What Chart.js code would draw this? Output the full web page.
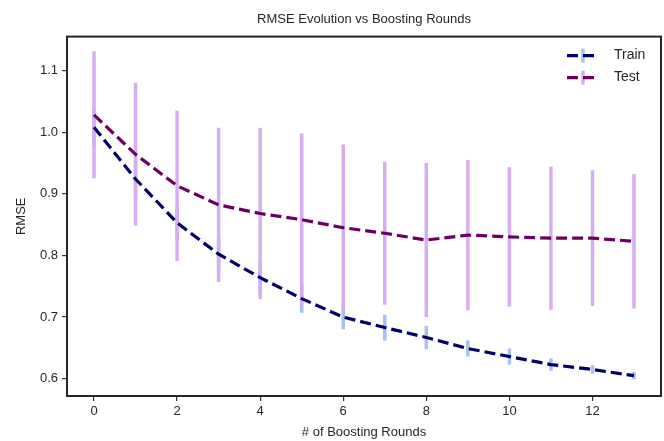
<!DOCTYPE html>
<html lang="en">
<head>
  <meta charset="UTF-8">
  <title>RMSE Evolution vs Boosting Rounds</title>
  <script src="https://cdn.jsdelivr.net/npm/chart.js"></script>
  <style>
    html, body { margin: 0; padding: 0; background: #fff; }
    #wrap { width: 664px; height: 441px; }
  </style>
</head>
<body>
  <div id="wrap"><canvas id="grafico" width="664" height="441"></canvas></div>

  <script>
    // dados
    const rounds = [0, 1, 2, 3, 4, 5, 6, 7, 8, 9, 10, 11, 12, 13];
    const trainMean = [1.008, 0.924, 0.853, 0.802, 0.764, 0.730, 0.700, 0.683, 0.667, 0.649, 0.636, 0.623, 0.615, 0.605];
    const trainStd  = [0.030, 0.030, 0.028, 0.027, 0.026, 0.023, 0.020, 0.021, 0.019, 0.013, 0.013, 0.010, 0.007, 0.006];
    const testMean  = [1.028, 0.964, 0.913, 0.882, 0.868, 0.858, 0.845, 0.836, 0.825, 0.833, 0.830, 0.828, 0.828, 0.823];
    const testStd   = [0.103, 0.116, 0.122, 0.125, 0.139, 0.140, 0.135, 0.116, 0.125, 0.122, 0.113, 0.116, 0.110, 0.109];
    const xTicks = [0, 2, 4, 6, 8, 10, 12];
    const yTicks = [0.6, 0.7, 0.8, 0.9, 1.0, 1.1];

    const font = 'Liberation Sans, Arial, sans-serif';
    const txtColor = '#262626';
    const series = [
      { label: 'Train', mean: trainMean, std: trainStd, line: '#000066', bar: '#a9c1f0' },
      { label: 'Test',  mean: testMean,  std: testStd,  line: '#6b005e', bar: '#d6aef0' }
    ];

    // barras de erro (train primeiro, test por cima)
    const errorBars = {
      id: 'errorBars',
      beforeDatasetsDraw(chart) {
        const { ctx, scales: { x, y } } = chart;
        ctx.save();
        ctx.lineWidth = 3.5;
        series.forEach(s => {
          ctx.strokeStyle = s.bar;
          rounds.forEach((r, i) => {
            const px = x.getPixelForValue(r);
            ctx.beginPath();
            ctx.moveTo(px, y.getPixelForValue(s.mean[i] + s.std[i]));
            ctx.lineTo(px, y.getPixelForValue(s.mean[i] - s.std[i]));
            ctx.stroke();
          });
        });
        ctx.restore();
      }
    };

    // moldura e legenda
    const frameLegend = {
      id: 'frameLegend',
      afterDraw(chart) {
        const { ctx, chartArea: a } = chart;
        ctx.save();
        ctx.strokeStyle = '#262626';
        ctx.lineWidth = 2;
        ctx.strokeRect(a.left, a.top, a.right - a.left, a.bottom - a.top);

        ctx.font = '14px ' + font;
        ctx.textBaseline = 'middle';
        series.forEach((s, i) => {
          const cy = a.top + 19 + i * 22;
          const x0 = a.right - 94;
          ctx.strokeStyle = s.bar;
          ctx.lineWidth = 3.5;
          ctx.beginPath();
          ctx.moveTo(x0 + 16, cy - 7);
          ctx.lineTo(x0 + 16, cy + 7);
          ctx.stroke();
          ctx.strokeStyle = s.line;
          ctx.lineWidth = 3.2;
          ctx.setLineDash([11, 5]);
          ctx.beginPath();
          ctx.moveTo(x0, cy);
          ctx.lineTo(x0 + 32, cy);
          ctx.stroke();
          ctx.setLineDash([]);
          ctx.fillStyle = txtColor;
          ctx.fillText(s.label, x0 + 47, cy);
        });
        ctx.restore();
      }
    };

    new Chart(document.getElementById('grafico'), {
      type: 'line',
      data: {
        datasets: series.map(s => ({
          label: s.label,
          data: rounds.map((r, i) => ({ x: r, y: s.mean[i] })),
          borderColor: s.line,
          borderWidth: 3.2,
          borderDash: [11, 5],
          pointRadius: 0,
          tension: 0,
          fill: false
        }))
      },
      options: {
        responsive: false,
        animation: false,
        layout: { padding: { left: 0, right: 3, top: 0, bottom: 0 } },
        plugins: {
          legend: { display: false },
          tooltip: { enabled: false },
          title: {
            display: true,
            text: 'RMSE Evolution vs Boosting Rounds',
            fullSize: false,
            color: txtColor,
            font: { family: font, size: 13, weight: 'normal' },
            padding: { top: 12, bottom: 9 }
          }
        },
        scales: {
          x: {
            type: 'linear',
            min: -0.65,
            max: 13.65,
            afterBuildTicks: sc => { sc.ticks = xTicks.map(v => ({ value: v })); },
            afterFit: sc => { sc.height = 45; },
            grid: { drawOnChartArea: false, drawTicks: true, tickLength: 5, color: '#333', lineWidth: 1.2 },
            border: { display: false },
            ticks: { color: txtColor, font: { family: font, size: 13 }, padding: 3, maxRotation: 0 },
            title: { display: true, text: '# of Boosting Rounds', color: txtColor, font: { family: font, size: 13 }, padding: { top: 0, bottom: 1 } }
          },
          y: {
            min: 0.572,
            max: 1.155,
            afterBuildTicks: sc => { sc.ticks = yTicks.map(v => ({ value: v })); },
            afterFit: sc => { sc.width = 67; },
            grid: { drawOnChartArea: false, drawTicks: true, tickLength: 5, color: '#333', lineWidth: 1.2 },
            border: { display: false },
            ticks: { color: txtColor, font: { family: font, size: 13 }, padding: 4, callback: v => v.toFixed(1) },
            title: { display: true, text: 'RMSE', color: txtColor, font: { family: font, size: 13 }, padding: { top: 14, bottom: 0 } }
          }
        }
      },
      plugins: [errorBars, frameLegend]
    });
  </script>
</body>
</html>
